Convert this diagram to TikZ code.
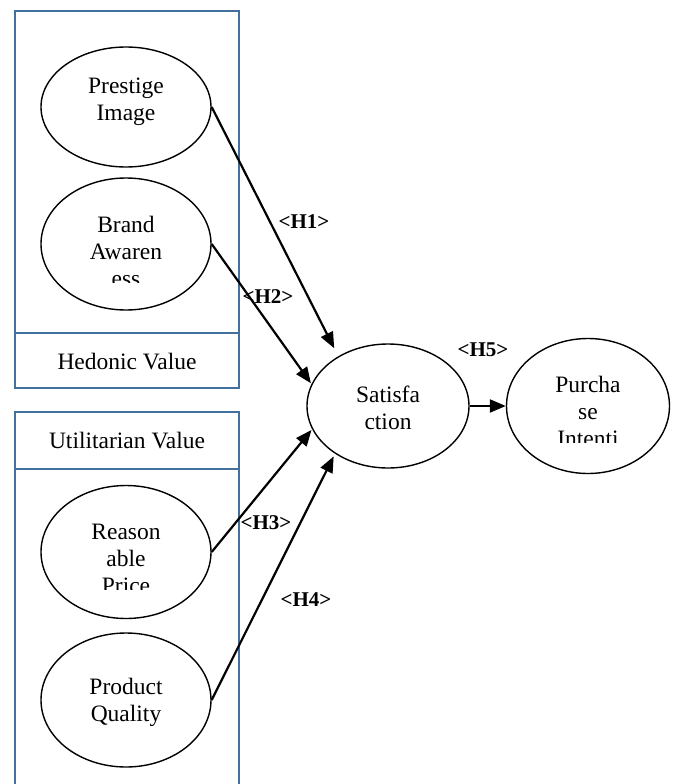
\documentclass[tikz,border=0pt]{standalone}
\usepackage{fontspec}
\setmainfont{Liberation Serif}
\usetikzlibrary{arrows.meta, shapes.geometric}

\definecolor{boxblue}{HTML}{41719C}

\tikzset{
  construct/.style={draw, ellipse, line width=1.4pt, minimum width=170pt, minimum height=120pt, inner sep=0pt},
  ctext/.style={anchor=center, inner sep=0pt, align=center, font=\fontsize{23.5}{27}\selectfont},
  hyp/.style={anchor=center, inner sep=0pt, font=\fontsize{21}{25}\selectfont\bfseries},
  path/.style={line width=2.2pt, -{Triangle[length=16pt,width=13pt]}},
  group/.style={draw=boxblue, line width=2.4pt},
}

\begin{document}
\begin{tikzpicture}[x=1pt, y=-1pt, line cap=butt, line join=miter]

  %% ════ 分组框（Hedonic / Utilitarian）════
  \draw[group] (15,11) rectangle (239,388);
  \draw[group] (15,333) -- (239,333);
  \node[ctext] (hedonic) at (127,362) {Hedonic Value};

  \draw[group] (15,784) -- (15,412) -- (239,412) -- (239,784);
  \draw[group] (15,469) -- (239,469);
  \node[ctext] (utilitarian) at (127,441) {Utilitarian Value};

  %% ════ 椭圆（潜变量）════
  \node[construct, minimum height=120pt] (prestige) at (126,107) {};
  \node[construct, minimum height=132pt] (brand)    at (126,244) {};
  \node[construct, minimum height=133pt] (price)    at (126,552) {};
  \node[construct, minimum height=134pt] (quality)  at (126,700) {};
  \node[construct, minimum width=162pt, minimum height=124pt] (satis)    at (388,406) {};
  \node[construct, minimum width=163pt, minimum height=135pt] (purchase) at (588,406) {};

  %% ════ 椭圆内文字（末行被裁切）════
  \node[ctext] (prestigetxt) at (126,102) {Prestige\\Image};
  \begin{scope}
    \clip (40,200) rectangle (212,282);
    \node[ctext] (brandtxt) at (126,251) {Brand\\Awaren\\ess};
  \end{scope}
  \begin{scope}
    \clip (40,510) rectangle (212,589);
    \node[ctext] (pricetxt) at (126,559) {Reason\\able\\Price};
  \end{scope}
  \node[ctext] (qualitytxt) at (126,702) {Product\\Quality};
  \node[ctext] (satistxt) at (388,408) {Satisfa\\ction};
  \begin{scope}
    \clip (500,360) rectangle (676,442);
    \node[ctext] (purchasetxt) at (588,411) {Purcha\\se\\Intenti};
  \end{scope}

  %% ════ 路径箭头 ════
  \draw[path, shorten >=9pt] (prestige.east) -- (satis.135);
  \draw[path, shorten >=1pt] (brand.east)    -- (satis.164);
  \draw[path, shorten >=1pt] (price.east)    -- (satis.197);
  \draw[path, shorten >=3pt] (quality.east)  -- (satis.222);
  \draw[path] (satis.east) -- (purchase.west);

  %% ════ 假设标签 ════
  \node[hyp] (h1) at (304,222) {<H1>};
  \node[hyp] (h2) at (268,297) {<H2>};
  \node[hyp] (h3) at (266,523) {<H3>};
  \node[hyp] (h4) at (306,600) {<H4>};
  \node[hyp] (h5) at (483,350) {<H5>};

  % 钉死画布
  \pgfresetboundingbox
  \path[use as bounding box] (0,0) rectangle (672,784);
\end{tikzpicture}
\end{document}
